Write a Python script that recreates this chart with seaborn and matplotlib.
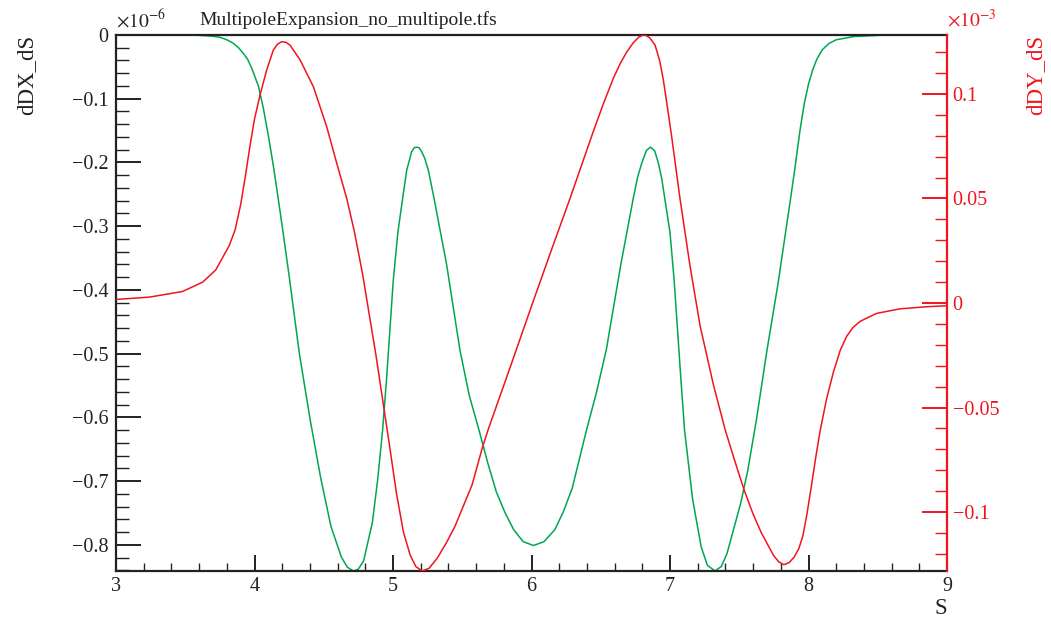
import matplotlib
matplotlib.use("Agg")
import matplotlib.pyplot as plt
from matplotlib.ticker import MultipleLocator, FuncFormatter
import seaborn as sns

# ---- data ----
# dDX_dS in units of 1e-6
s_dx = [3.45, 3.60, 3.70, 3.751, 3.80, 3.847, 3.885, 3.919, 3.95, 3.98, 4.028, 4.064,
        4.10, 4.136, 4.16, 4.20, 4.25, 4.324, 4.403, 4.478, 4.552, 4.627, 4.67, 4.714,
        4.75, 4.788, 4.851, 4.888, 4.925, 4.954, 5.002, 5.035, 5.07, 5.099, 5.135,
        5.153, 5.171, 5.189, 5.207, 5.23, 5.255, 5.296, 5.387, 5.483, 5.55, 5.621,
        5.685, 5.746, 5.81, 5.871, 5.94, 6.015, 6.09, 6.169, 6.23, 6.294, 6.397, 6.47,
        6.54, 6.645, 6.735, 6.765, 6.796, 6.83, 6.86, 6.89, 6.916, 6.94, 6.962, 7.00,
        7.03, 7.078, 7.105, 7.163, 7.225, 7.27, 7.325, 7.37, 7.411, 7.51, 7.56, 7.623,
        7.70, 7.78, 7.871, 7.90, 7.939, 7.97, 8.00, 8.03, 8.06, 8.10, 8.15, 8.20, 8.325,
        8.516]
dx = [0.0, -0.0005, -0.002, -0.0036, -0.0075, -0.013, -0.020, -0.0288, -0.038, -0.052,
      -0.080, -0.115, -0.158, -0.205, -0.240, -0.300, -0.378, -0.500, -0.605, -0.695,
      -0.771, -0.819, -0.835, -0.841, -0.838, -0.825, -0.765, -0.700, -0.620, -0.538,
      -0.385, -0.310, -0.256, -0.212, -0.183, -0.177, -0.176, -0.177, -0.183, -0.194,
      -0.212, -0.256, -0.360, -0.494, -0.565, -0.620, -0.672, -0.717, -0.750, -0.776,
      -0.795, -0.801, -0.795, -0.776, -0.748, -0.711, -0.620, -0.560, -0.494, -0.360,
      -0.256, -0.224, -0.201, -0.181, -0.176, -0.182, -0.201, -0.225, -0.256, -0.310,
      -0.385, -0.538, -0.620, -0.728, -0.803, -0.832, -0.841, -0.834, -0.814, -0.735,
      -0.685, -0.605, -0.495, -0.390, -0.256, -0.212, -0.149, -0.107, -0.077, -0.055,
      -0.038, -0.023, -0.013, -0.0075, -0.0025, -0.0005]

# dDY_dS in units of 1e-3
s_dy = [3.00, 3.24, 3.48, 3.626, 3.72, 3.818, 3.86, 3.90, 3.935, 3.967, 4.00, 4.04,
        4.088, 4.136, 4.166, 4.196, 4.226, 4.256, 4.329, 4.425, 4.521, 4.594, 4.666,
        4.72, 4.78, 4.877, 4.97, 5.025, 5.075, 5.124, 5.165, 5.211, 5.26, 5.32, 5.383,
        5.447, 5.571, 5.646, 5.69, 5.85, 6.00, 6.15, 6.278, 6.362, 6.446, 6.52, 6.591,
        6.64, 6.687, 6.735, 6.775, 6.815, 6.855, 6.892, 6.925, 6.952, 6.985, 7.012,
        7.072, 7.145, 7.217, 7.313, 7.399, 7.47, 7.536, 7.60, 7.66, 7.747, 7.785,
        7.822, 7.86, 7.896, 7.93, 7.959, 7.99, 8.021, 8.052, 8.083, 8.13, 8.18, 8.23,
        8.275, 8.32, 8.372, 8.49, 8.66, 8.85, 9.00]
dy = [0.0017, 0.0028, 0.0055, 0.0100, 0.0158, 0.0275, 0.0350, 0.0470, 0.0610, 0.0750,
      0.0880, 0.0995, 0.1115, 0.1210, 0.1238, 0.1250, 0.1247, 0.1234, 0.1163, 0.1035,
      0.0844, 0.0668, 0.0500, 0.0345, 0.0140, -0.0250, -0.0660, -0.0910, -0.1095,
      -0.1206, -0.1261, -0.1282, -0.1269, -0.1220, -0.1150, -0.1069, -0.0870, -0.0690,
      -0.0600, -0.0300, -0.0015, 0.0265, 0.0500, 0.0660, 0.0820, 0.0955, 0.1075, 0.1145,
      0.1200, 0.1245, 0.1272, 0.1284, 0.1268, 0.1234, 0.1160, 0.1067, 0.0920, 0.0796,
      0.0500, 0.0175, -0.0108, -0.0390, -0.0608, -0.0760, -0.0896, -0.1010, -0.1100,
      -0.1207, -0.1238, -0.1252, -0.1242, -0.1216, -0.1175, -0.1115, -0.1005, -0.0875,
      -0.0740, -0.0615, -0.0460, -0.0330, -0.0225, -0.0160, -0.0118, -0.0088, -0.0050,
      -0.0028, -0.0018, -0.0013]

title = "MultipoleExpansion_no_multipole.tfs"
xlabel = "S"
ylabel_left = "dDX_dS"
ylabel_right = "dDY_dS"
mult_left = r"$\times10^{-6}$"
mult_right = r"$\times10^{-3}$"

GREEN = "#00a651"
RED = "#f0141e"
DARK = "#222222"

sns.set_style("ticks")
plt.rcParams["font.family"] = ["Liberation Serif", "DejaVu Serif"]
plt.rcParams["mathtext.fontset"] = "stix"
plt.rcParams["axes.unicode_minus"] = True

fig = plt.figure(figsize=(10.51, 6.18), dpi=100)
ax = fig.add_axes([116 / 1051, 1 - 571 / 618, 831 / 1051, 536 / 618])
ax2 = ax.twinx()

sns.lineplot(x=s_dx, y=dx, ax=ax, color=GREEN, linewidth=1.1, estimator=None, sort=False)
sns.lineplot(x=s_dy, y=dy, ax=ax2, color=RED, linewidth=1.1, estimator=None, sort=False)

ax.set_xlim(3, 9)
ax.set_ylim(-0.841, 0)
ax2.set_ylim(-0.1282, 0.1282)


def fmt(v, pos):
    if abs(v) < 1e-9:
        return "0"
    return f"{v:g}".replace("-", "\u2212")


ax.xaxis.set_major_locator(MultipleLocator(1))
ax.xaxis.set_minor_locator(MultipleLocator(0.2))
ax.yaxis.set_major_locator(MultipleLocator(0.1))
ax.yaxis.set_minor_locator(MultipleLocator(0.02))
ax.yaxis.set_major_formatter(FuncFormatter(fmt))
ax2.yaxis.set_major_locator(MultipleLocator(0.05))
ax2.yaxis.set_minor_locator(MultipleLocator(0.01))
ax2.yaxis.set_major_formatter(FuncFormatter(fmt))

TICK_FS = 14.5
ax.tick_params(axis="y", which="major", direction="in", length=18, width=1.4, pad=5.5,
               labelsize=TICK_FS, color=DARK, labelcolor=DARK)
ax.tick_params(axis="y", which="minor", direction="in", length=9, width=1.0, color=DARK)
ax.tick_params(axis="x", which="major", direction="in", length=11.5, width=1.4, pad=4,
               labelsize=TICK_FS, color=DARK, labelcolor=DARK)
ax.tick_params(axis="x", which="minor", direction="in", length=5.5, width=1.0, color=DARK)
ax2.tick_params(axis="y", which="major", direction="in", length=18, width=1.4, pad=4,
                labelsize=TICK_FS, color=RED, labelcolor=RED)
ax2.tick_params(axis="y", which="minor", direction="in", length=9, width=1.0, color=RED)

for side in ["top", "left", "bottom"]:
    ax.spines[side].set_color(DARK)
    ax.spines[side].set_linewidth(1.6)
    ax2.spines[side].set_visible(False)
ax.spines["right"].set_visible(False)
ax2.spines["right"].set_color(RED)
ax2.spines["right"].set_linewidth(1.6)

LABEL_FS = 16.5
ax.set_xlabel(xlabel, fontsize=LABEL_FS, color=DARK, loc="right")
ax.xaxis.set_label_coords(1.0, -27 / 536)
ax.set_ylabel(ylabel_left, fontsize=LABEL_FS, color=DARK, loc="top")
ax.yaxis.set_label_coords(-79 / 831, 1.0)
ax2.set_ylabel(ylabel_right, fontsize=LABEL_FS, color=RED, loc="top")
ax2.yaxis.set_label_coords(1 + 78 / 831, 1.0)

ax.text(0.0, 1.0075, mult_left, transform=ax.transAxes, ha="left", va="bottom",
        fontsize=14, color=DARK)
ax2.text(1.0, 1.0075, mult_right, transform=ax2.transAxes, ha="left", va="bottom",
         fontsize=14, color=RED)
fig.text(199 / 1051, 1 - 25 / 618, title, ha="left", va="baseline", fontsize=14, color=DARK)

fig.savefig("out.png", dpi=100)
